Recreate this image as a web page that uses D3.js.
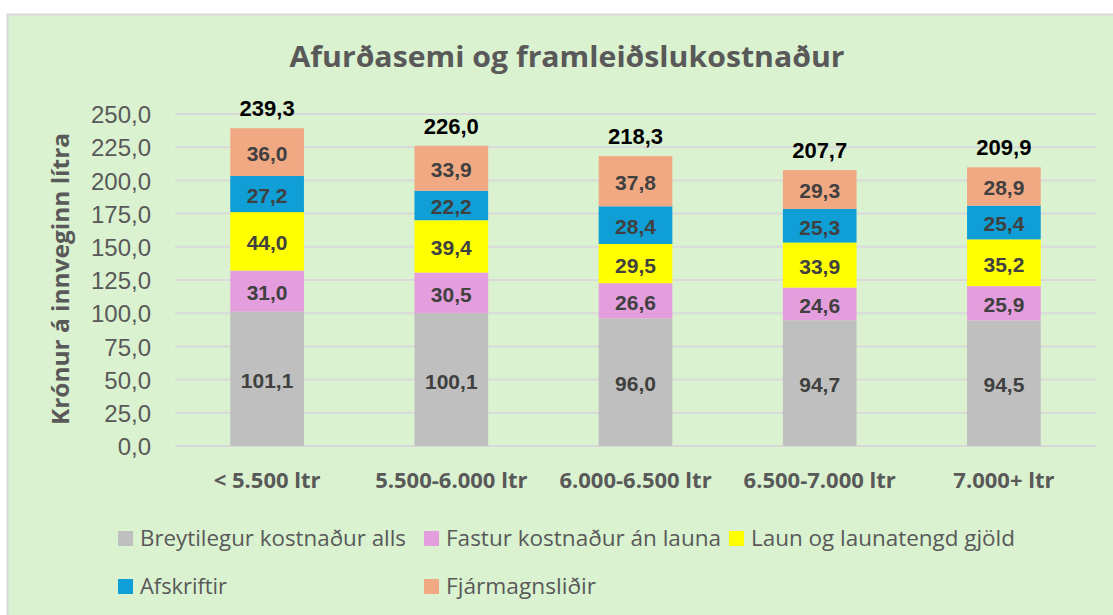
<!DOCTYPE html>
<html>
<head>
<meta charset="utf-8">
<script src="https://cdn.jsdelivr.net/npm/d3@7"></script>
<style>
  body { margin: 0; background: #fff; }
  svg { display: block; }
</style>
</head>
<body>
<div id="chart"></div>
<script>
const categories = ["< 5.500 ltr", "5.500-6.000 ltr", "6.000-6.500 ltr", "6.500-7.000 ltr", "7.000+ ltr"];
const seriesNames = ["Breytilegur kostnaður alls", "Fastur kostnaður án launa", "Laun og launatengd gjöld", "Afskriftir", "Fjármagnsliðir"];
const breytilegur = [101.1, 100.1, 96.0, 94.7, 94.5];
const fastur = [31.0, 30.5, 26.6, 24.6, 25.9];
const laun = [44.0, 39.4, 29.5, 33.9, 35.2];
const afskriftir = [27.2, 22.2, 28.4, 25.3, 25.4];
const fjarmagn = [36.0, 33.9, 37.8, 29.3, 28.9];
const totals = [239.3, 226.0, 218.3, 207.7, 209.9];
const yTicks = [0, 25, 50, 75, 100, 125, 150, 175, 200, 225, 250];
const colors = ["#bfbfbf", "#e59edd", "#ffff00", "#0f9ed5", "#f1a983"];

const width = 1113, height = 615;
const fmt = v => d3.format(".1f")(v).replace(".", ",");

const svg = d3.select("#chart").append("svg")
    .attr("width", width)
    .attr("height", height);

// chart area background + border
svg.append("rect")
    .attr("x", 7.5).attr("y", 14.5)
    .attr("width", width + 10).attr("height", height + 10)
    .attr("fill", "#daf2d0")
    .attr("stroke", "#d9d9d9")
    .attr("stroke-width", 2);

svg.append("text")
    .attr("x", 567).attr("y", 67)
    .attr("text-anchor", "middle")
    .attr("fill", "#595959")
    .attr("textLength", 555)
    .attr("lengthAdjust", "spacingAndGlyphs")
    .style("font-family", "'Open Sans', sans-serif")
    .style("font-weight", "bold")
    .style("font-size", "29px")
    .text("Afurðasemi og framleiðslukostnaður");

const x = d3.scaleBand().domain(categories).range([175, 1096]).paddingInner(0.6).paddingOuter(0.3);
const y = d3.scaleLinear().domain([0, 250]).range([446, 114]);

// gridlines
svg.append("g")
    .selectAll("line")
    .data(yTicks)
    .enter().append("line")
    .attr("x1", 175).attr("x2", 1096)
    .attr("y1", d => y(d)).attr("y2", d => y(d))
    .attr("stroke", "#d9d9d9")
    .attr("stroke-width", 2);

// y axis labels
const yAxis = svg.append("g")
    .attr("transform", "translate(151,0)")
    .call(d3.axisLeft(y).tickValues(yTicks).tickFormat(fmt).tickSize(0).tickPadding(0));
yAxis.select(".domain").remove();
yAxis.selectAll("text")
    .attr("fill", "#595959")
    .attr("dy", "0.36em")
    .style("font-family", "'Liberation Sans', Arial, sans-serif")
    .style("font-size", "24px");

svg.append("text")
    .attr("transform", "translate(69,279) rotate(-90)")
    .attr("text-anchor", "middle")
    .attr("fill", "#595959")
    .attr("textLength", 292)
    .attr("lengthAdjust", "spacingAndGlyphs")
    .style("font-family", "'Open Sans', sans-serif")
    .style("font-weight", "bold")
    .style("font-size", "24px")
    .text("Krónur á innveginn lítra");

// x axis labels
const xAxis = svg.append("g")
    .attr("transform", "translate(0,446)")
    .call(d3.axisBottom(x).tickSize(0).tickPadding(0));
xAxis.select(".domain").remove();
xAxis.selectAll("text")
    .attr("dy", null)
    .attr("y", 42)
    .attr("fill", "#595959")
    .style("font-family", "'Open Sans', sans-serif")
    .style("font-weight", "bold")
    .style("font-size", "22px");

// stacked bars
const rows = categories.map((c, i) => ({
    cat: c,
    s0: breytilegur[i], s1: fastur[i], s2: laun[i], s3: afskriftir[i], s4: fjarmagn[i]
}));
const stack = d3.stack().keys(["s0", "s1", "s2", "s3", "s4"])(rows);

const layer = svg.append("g")
    .selectAll("g")
    .data(stack)
    .enter().append("g")
    .attr("fill", (d, i) => colors[i]);

layer.selectAll("rect")
    .data(d => d)
    .enter().append("rect")
    .attr("x", d => x(d.data.cat))
    .attr("width", x.bandwidth())
    .attr("y", d => y(d[1]))
    .attr("height", d => y(d[0]) - y(d[1]));

layer.selectAll("text")
    .data(d => d.map(p => ({ p, key: d.key })))
    .enter().append("text")
    .attr("x", d => x(d.p.data.cat) + x.bandwidth() / 2)
    .attr("y", d => (y(d.p[0]) + y(d.p[1])) / 2 + 9)
    .attr("text-anchor", "middle")
    .attr("fill", "#404040")
    .style("font-family", "'Liberation Sans', Arial, sans-serif")
    .style("font-weight", "bold")
    .style("font-size", "21px")
    .text(d => fmt(d.p.data[d.key]));

// totals
svg.append("g")
    .selectAll("text")
    .data(categories)
    .enter().append("text")
    .attr("x", d => x(d) + x.bandwidth() / 2)
    .attr("y", (d, i) => y(totals[i]) - 12)
    .attr("text-anchor", "middle")
    .attr("fill", "#000")
    .style("font-family", "'Liberation Sans', Arial, sans-serif")
    .style("font-weight", "bold")
    .style("font-size", "22px")
    .text((d, i) => fmt(totals[i]));

// legend (two rows, three columns)
const legendPos = [[118, 538], [424, 538], [729, 538], [118, 586], [424, 586]];
const legendTextLen = [266, 275, 264, 87, 150];
const legend = svg.append("g")
    .selectAll("g")
    .data(seriesNames)
    .enter().append("g")
    .attr("transform", (d, i) => `translate(${legendPos[i][0]},${legendPos[i][1]})`);
legend.append("rect")
    .attr("x", 0).attr("y", -7)
    .attr("width", 15).attr("height", 15)
    .attr("fill", (d, i) => colors[i]);
legend.append("text")
    .attr("x", 22).attr("y", 8)
    .attr("fill", "#595959")
    .attr("textLength", (d, i) => legendTextLen[i])
    .attr("lengthAdjust", "spacingAndGlyphs")
    .style("font-family", "'Open Sans', sans-serif")
    .style("font-size", "22px")
    .text(d => d);
</script>
</body>
</html>
